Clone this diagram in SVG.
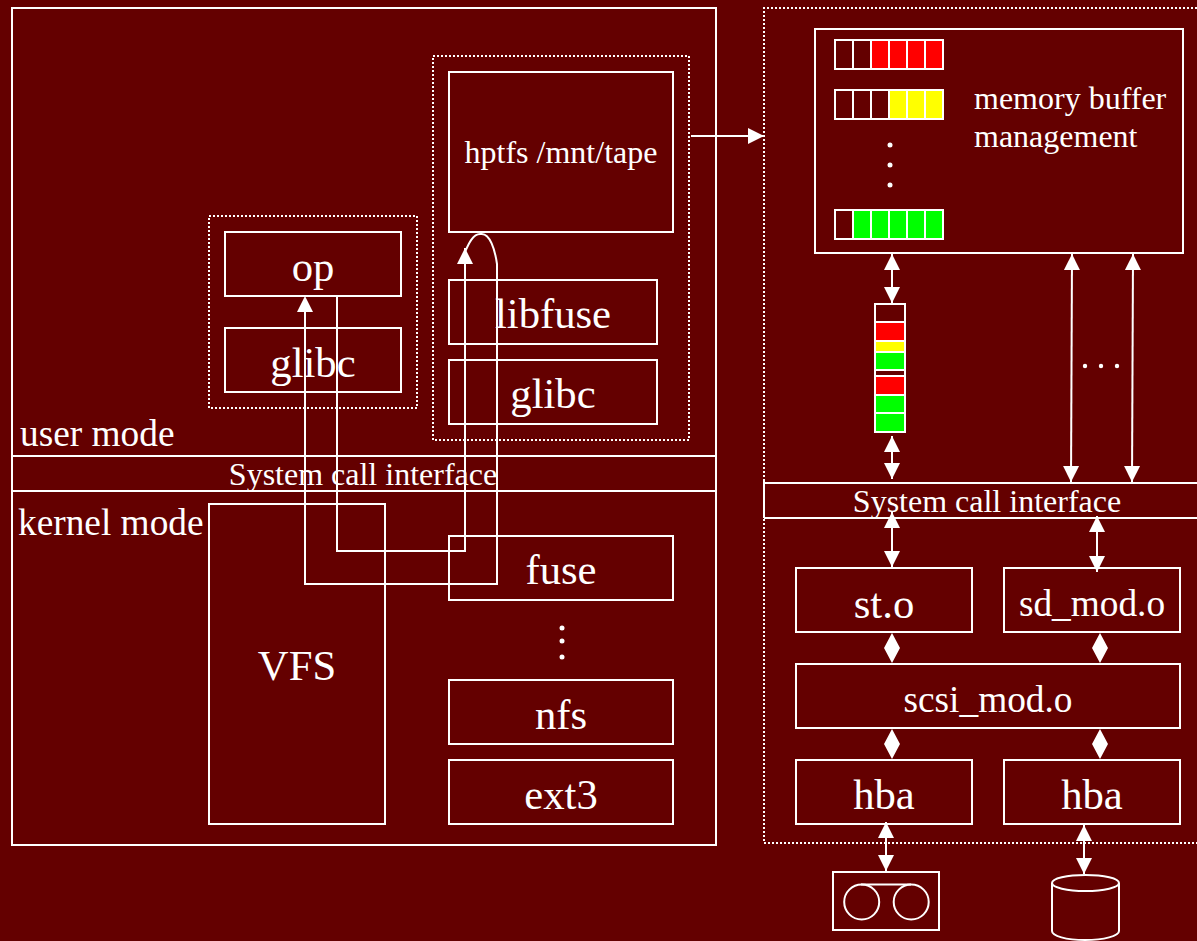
<svg xmlns="http://www.w3.org/2000/svg" width="1197" height="941" viewBox="0 0 1197 941">
<style>
.b{fill:none;stroke:#fff;stroke-width:2}
.d{fill:none;stroke:#fff;stroke-width:2;stroke-dasharray:2 2}
.c{fill:none;stroke:#fff;stroke-width:2}
.t{fill:#fff;font-family:"Liberation Serif","Times New Roman",serif;text-anchor:middle}
.l{fill:#fff;font-family:"Liberation Serif","Times New Roman",serif}
.s40{font-size:42.67px}.s36{font-size:37.33px}.s32{font-size:32px}
.dot{fill:#fff}
.r{fill:#f00;stroke:#fff;stroke-width:2}.y{fill:#ff0;stroke:#fff;stroke-width:2}.g{fill:#0f0;stroke:#fff;stroke-width:2}.e{fill:none;stroke:#fff;stroke-width:2}
</style>
<defs>
<marker id="a" markerUnits="userSpaceOnUse" markerWidth="16" markerHeight="16" refX="8" refY="0" viewBox="0 0 16 16" orient="auto-start-reverse" overflow="visible"><path d="M8 0L16 16H0Z" fill="#fff" transform="rotate(90 8 0)"/></marker>
</defs>
<rect width="1197" height="941" fill="#640000"/>
<g id="user-kernel-frame">
<rect class="b" x="12" y="8" width="704" height="837"/>
<line class="b" x1="12" y1="456" x2="716" y2="456"/>
<line class="b" x1="12" y1="491" x2="716" y2="491"/>
<text class="l s36" x="20" y="446">user mode</text>
<text class="l s36" x="18" y="535">kernel mode</text>
<text class="t s32" x="363" y="485">System call interface</text>
</g>
<g id="op-process"><rect class="d" x="209" y="216" width="208" height="192"/></g>
<g id="op"><rect class="b" x="225" y="232" width="176" height="64"/><text class="t s40" x="313" y="281">op</text></g>
<g id="glibc-op"><rect class="b" x="225" y="328" width="176" height="64"/><text class="t s40" x="313" y="377">glibc</text></g>
<g id="hptfs-process"><rect class="d" x="433" y="56" width="256" height="384"/></g>
<g id="hptfs"><rect class="b" x="449" y="72" width="224" height="160"/><text class="t s32" x="561" y="163">hptfs /mnt/tape</text></g>
<g id="libfuse"><rect class="b" x="449" y="280" width="208" height="64"/><text class="t s40" x="553" y="328">libfuse</text></g>
<g id="glibc-hptfs"><rect class="b" x="449" y="360" width="208" height="64"/><text class="t s40" x="553" y="408">glibc</text></g>
<g id="vfs"><rect class="b" x="209" y="504" width="176" height="320"/><text class="t s40" x="297" y="680">VFS</text></g>
<g id="fuse"><rect class="b" x="449" y="536" width="224" height="64"/><text class="t s40" x="561" y="584">fuse</text></g>
<g id="fs-dots"><circle class="dot" cx="562" cy="628" r="2.500"/><circle class="dot" cx="562" cy="641" r="2.500"/><circle class="dot" cx="562" cy="657" r="2.500"/></g>
<g id="nfs"><rect class="b" x="449" y="680" width="224" height="64"/><text class="t s40" x="561" y="729">nfs</text></g>
<g id="ext3"><rect class="b" x="449" y="760" width="224" height="64"/><text class="t s40" x="561" y="809">ext3</text></g>
<g id="tape-frame">
<path class="d" d="M1197 8H764V843H1197"/>
<line class="b" x1="764" y1="483" x2="1197" y2="483"/>
<line class="b" x1="764" y1="518" x2="1197" y2="518"/>
<line class="b" x1="764" y1="481" x2="764" y2="518"/>
<text class="t s32" x="987" y="512">System call interface</text>
</g>
<g id="memory-buffer">
<rect class="b" x="815" y="29" width="368" height="224"/>
<g id="row-red"><rect class="e" x="835" y="40" width="18" height="29"/><rect class="e" x="853" y="40" width="18" height="29"/><rect class="r" x="871" y="40" width="18" height="29"/><rect class="r" x="889" y="40" width="18" height="29"/><rect class="r" x="907" y="40" width="18" height="29"/><rect class="r" x="925" y="40" width="18" height="29"/></g>
<g id="row-yellow"><rect class="e" x="835" y="90" width="18" height="29"/><rect class="e" x="853" y="90" width="18" height="29"/><rect class="e" x="871" y="90" width="18" height="29"/><rect class="y" x="889" y="90" width="18" height="29"/><rect class="y" x="907" y="90" width="18" height="29"/><rect class="y" x="925" y="90" width="18" height="29"/></g>
<g id="row-green"><rect class="e" x="835" y="210" width="18" height="29"/><rect class="g" x="853" y="210" width="18" height="29"/><rect class="g" x="871" y="210" width="18" height="29"/><rect class="g" x="889" y="210" width="18" height="29"/><rect class="g" x="907" y="210" width="18" height="29"/><rect class="g" x="925" y="210" width="18" height="29"/></g>
<circle class="dot" cx="890" cy="145" r="2.500"/><circle class="dot" cx="890" cy="165" r="2.500"/><circle class="dot" cx="890" cy="185" r="2.500"/>
<text class="l s32" x="974" y="109">memory buffer</text>
<text class="l s32" x="974" y="147">management</text>
</g>
<g id="queue">
<rect class="e" x="875" y="304" width="30" height="18"/>
<rect class="r" x="875" y="322" width="30" height="19"/>
<rect class="y" x="875" y="341" width="30" height="11"/>
<rect class="g" x="875" y="352" width="30" height="18"/>
<rect class="e" x="875" y="370" width="30" height="6"/>
<rect class="r" x="875" y="376" width="30" height="19"/>
<rect class="g" x="875" y="395" width="30" height="18"/>
<rect class="g" x="875" y="413" width="30" height="19"/>
</g>
<g id="bus-dots"><circle class="dot" cx="1085" cy="366" r="2.200"/><circle class="dot" cx="1101" cy="366" r="2.200"/><circle class="dot" cx="1117" cy="366" r="2.200"/></g>
<g id="st"><rect class="b" x="796" y="568" width="176" height="64"/><text class="t s40" x="884" y="618">st.o</text></g>
<g id="sd"><rect class="b" x="1004" y="568" width="176" height="64"/><text class="t s36" x="1092" y="616">sd_mod.o</text></g>
<g id="scsi"><rect class="b" x="796" y="664" width="384" height="64"/><text class="t s36" x="988" y="712">scsi_mod.o</text></g>
<g id="hba-1"><rect class="b" x="796" y="760" width="176" height="64"/><text class="t s40" x="884" y="809">hba</text></g>
<g id="hba-2"><rect class="b" x="1004" y="760" width="176" height="64"/><text class="t s40" x="1092" y="809">hba</text></g>
<g id="tape-drive"><rect class="b" x="833" y="872" width="106" height="58"/><circle class="b" cx="861.700" cy="902" r="17.500"/><circle class="b" cx="911.200" cy="902" r="17.500"/><line class="b" x1="861" y1="884.500" x2="911" y2="884.500"/></g>
<g id="disk"><path class="b" d="M1052 883V931C1052 936 1066 940 1085 940S1119 936 1119 931V883"/><ellipse class="b" cx="1085.500" cy="883" rx="33.500" ry="8"/></g>
<g id="connectors">
<path class="c" d="M337 296V551H465V248" marker-end="url(#a)"/>
<path class="c" d="M305 305V584H497V264C495 250 490 233 481 234C473 233 468 245 465 252"/>
<path d="M305 296L313 312H297Z" fill="#fff"/>
<line class="c" x1="691" y1="136" x2="764" y2="136" marker-end="url(#a)"/>
<line class="c" x1="892" y1="254" x2="892" y2="303" marker-start="url(#a)" marker-end="url(#a)"/>
<line class="c" x1="892" y1="436" x2="892" y2="479" marker-start="url(#a)" marker-end="url(#a)"/>
<line class="c" x1="1072" y1="254" x2="1071" y2="482" marker-start="url(#a)" marker-end="url(#a)"/>
<line class="c" x1="1133" y1="254" x2="1132" y2="482" marker-start="url(#a)" marker-end="url(#a)"/>
<line class="c" x1="892" y1="512" x2="892" y2="567" marker-start="url(#a)" marker-end="url(#a)"/>
<line class="c" x1="1097" y1="516" x2="1097" y2="572" marker-start="url(#a)" marker-end="url(#a)"/>
<path d="M892 633L900 648L892 663L884 648Z" fill="#fff"/>
<path d="M1100 633L1108 648L1100 663L1092 648Z" fill="#fff"/>
<path d="M892 729L900 744L892 759L884 744Z" fill="#fff"/>
<path d="M1100 729L1108 744L1100 759L1092 744Z" fill="#fff"/>
<line class="c" x1="886" y1="822" x2="886" y2="871" marker-start="url(#a)" marker-end="url(#a)"/>
<line class="c" x1="1084" y1="825" x2="1084" y2="874" marker-start="url(#a)" marker-end="url(#a)"/>
</g>
</svg>
